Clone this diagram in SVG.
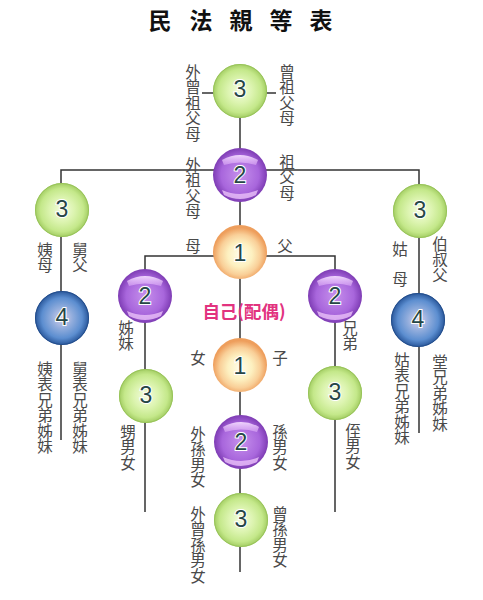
<svg xmlns="http://www.w3.org/2000/svg" width="483" height="600" viewBox="0 0 483 600">
<defs>
<radialGradient id="gGreen" cx="50%" cy="50%" r="50%">
<stop offset="0" stop-color="#f4fce0"/>
<stop offset="0.45" stop-color="#dcf4b0"/>
<stop offset="0.8" stop-color="#c4e88a"/>
<stop offset="1" stop-color="#a2cc62"/>
</radialGradient>
<radialGradient id="gPurple" cx="50%" cy="50%" r="50%">
<stop offset="0" stop-color="#c690ec"/>
<stop offset="0.7" stop-color="#a866dc"/>
<stop offset="1" stop-color="#7e3cb4"/>
</radialGradient>
<radialGradient id="gOrange" cx="50%" cy="55%" r="50%">
<stop offset="0" stop-color="#fffde8"/>
<stop offset="0.45" stop-color="#fdf0c0"/>
<stop offset="0.75" stop-color="#f9cf98"/>
<stop offset="1" stop-color="#ee9e5c"/>
</radialGradient>
<radialGradient id="gBlue" cx="50%" cy="50%" r="50%">
<stop offset="0" stop-color="#d8d0ec"/>
<stop offset="0.4" stop-color="#90acdc"/>
<stop offset="0.75" stop-color="#5c8ed0"/>
<stop offset="1" stop-color="#28569a"/>
</radialGradient>
<linearGradient id="hlTop" x1="0" y1="0" x2="0" y2="1">
<stop offset="0" stop-color="#f4dcff" stop-opacity="0.95"/>
<stop offset="1" stop-color="#e6b8fa" stop-opacity="0.5"/>
</linearGradient>
<style>
.ln{stroke:#333;stroke-width:1.5;fill:none}
.num{font-family:"Liberation Sans",Arial,sans-serif;font-size:23px;fill:#264646;stroke:#fff;stroke-width:2;paint-order:stroke;text-anchor:middle;dominant-baseline:central}
.lbl{font-family:"Noto Sans CJK TC","Noto Sans CJK SC",sans-serif;font-size:15.5px;fill:#4a4a4a}
.v{writing-mode:vertical-rl}
.h{text-anchor:middle;dominant-baseline:central}
.ttl{font-family:"Noto Sans CJK TC","Noto Sans CJK SC",sans-serif;font-size:23px;font-weight:bold;fill:#111;text-anchor:middle}
.self{font-family:"Noto Sans CJK TC","Noto Sans CJK SC",sans-serif;font-size:17.5px;font-weight:bold;fill:#e2337f;text-anchor:middle}
.rim{fill:none;stroke-width:1}
</style>
</defs>
<rect width="483" height="600" fill="#fff"/>

<g id="title">
<text class="ttl" x="160" y="29">民</text>
<text class="ttl" x="201" y="29">法</text>
<text class="ttl" x="241" y="29">親</text>
<text class="ttl" x="281" y="29">等</text>
<text class="ttl" x="321" y="29">表</text>
</g>

<g id="connectors">
<line class="ln" x1="202" y1="93" x2="276" y2="93"/>
<line class="ln" x1="240" y1="91" x2="240" y2="572"/>
<polyline class="ln" points="61,440 61,170 419,170 419,433"/>
<polyline class="ln" points="145,512 145,256 335,256 335,512"/>
</g>

<g id="n-great-grandparents">
<circle cx="240" cy="91" r="27" fill="url(#gGreen)"/>
<circle class="rim" cx="240" cy="91" r="26.5" stroke="#98c45a"/>
<text class="num" x="240" y="89">3</text>
<text class="lbl v" x="193" y="64">外曾祖父母</text>
<text class="lbl v" x="287" y="64">曾祖父母</text>
</g>

<g id="n-grandparents">
<circle cx="240" cy="175" r="27" fill="url(#gPurple)"/>
<path d="M222,160 Q240,150 258,160 L256,165 Q240,160 224,165 Z" fill="url(#hlTop)"/>
<path d="M222,190 Q240,198 258,190 L256,195 Q240,203 224,195 Z" fill="#ebc2fa" opacity="0.8"/>
<text class="num" x="240" y="175">2</text>
<text class="lbl v" x="193" y="157">外祖父母</text>
<text class="lbl v" x="287" y="154">祖父母</text>
</g>

<g id="n-parents">
<circle cx="240" cy="252" r="27" fill="url(#gOrange)"/>
<text class="num" x="240" y="253">1</text>
<text class="lbl h" x="193" y="245">母</text>
<text class="lbl h" x="285" y="245">父</text>
</g>

<g id="n-maternal-aunt-uncle">
<circle cx="62" cy="210" r="27" fill="url(#gGreen)"/>
<circle class="rim" cx="62" cy="210" r="26.5" stroke="#98c45a"/>
<text class="num" x="62" y="209">3</text>
<text class="lbl v" x="45" y="242">姨母</text>
<text class="lbl v" x="80" y="242">舅父</text>
</g>

<g id="n-maternal-cousins">
<circle cx="62" cy="318" r="27" fill="url(#gBlue)"/>
<circle class="rim" cx="62" cy="318" r="26.5" stroke="#244e8c"/>
<text class="num" x="62" y="317">4</text>
<text class="lbl v" x="45" y="361">姨表兄弟姊妹</text>
<text class="lbl v" x="80" y="361">舅表兄弟姊妹</text>
</g>

<g id="n-paternal-aunt-uncle">
<circle cx="420" cy="211" r="27" fill="url(#gGreen)"/>
<circle class="rim" cx="420" cy="211" r="26.5" stroke="#98c45a"/>
<text class="num" x="420" y="210">3</text>
<text class="lbl h" x="400" y="248">姑</text>
<text class="lbl h" x="400" y="278">母</text>
<text class="lbl v" x="440" y="236">伯叔父</text>
</g>

<g id="n-paternal-cousins">
<circle cx="418" cy="320" r="27" fill="url(#gBlue)"/>
<circle class="rim" cx="418" cy="320" r="26.5" stroke="#244e8c"/>
<text class="num" x="418" y="319">4</text>
<text class="lbl v" x="402" y="352">姑表兄弟姊妹</text>
<text class="lbl v" x="440" y="354">堂兄弟姊妹</text>
</g>

<g id="n-sisters">
<circle cx="145" cy="296" r="27" fill="url(#gPurple)"/>
<path d="M127,281 Q145,271 163,281 L161,286 Q145,281 129,286 Z" fill="url(#hlTop)"/>
<path d="M127,311 Q145,319 163,311 L161,316 Q145,324 129,316 Z" fill="#ebc2fa" opacity="0.8"/>
<text class="num" x="145" y="296">2</text>
<text class="lbl v" x="126" y="320">姊妹</text>
</g>

<g id="n-brothers">
<circle cx="335" cy="296" r="27" fill="url(#gPurple)"/>
<path d="M317,281 Q335,271 353,281 L351,286 Q335,281 319,286 Z" fill="url(#hlTop)"/>
<path d="M317,311 Q335,319 353,311 L351,316 Q335,324 319,316 Z" fill="#ebc2fa" opacity="0.8"/>
<text class="num" x="335" y="296">2</text>
<text class="lbl v" x="350" y="320">兄弟</text>
</g>

<g id="n-self">
<text class="self" x="244" y="318">自己(配偶)</text>
</g>

<g id="n-children">
<circle cx="240" cy="365" r="27" fill="url(#gOrange)"/>
<text class="num" x="240" y="366">1</text>
<text class="lbl h" x="198" y="357">女</text>
<text class="lbl h" x="280" y="357">子</text>
</g>

<g id="n-sister-children">
<circle cx="146" cy="396" r="27" fill="url(#gGreen)"/>
<circle class="rim" cx="146" cy="396" r="26.5" stroke="#98c45a"/>
<text class="num" x="146" y="395">3</text>
<text class="lbl v" x="128" y="424">甥男女</text>
</g>

<g id="n-brother-children">
<circle cx="335" cy="393" r="27" fill="url(#gGreen)"/>
<circle class="rim" cx="335" cy="393" r="26.5" stroke="#98c45a"/>
<text class="num" x="335" y="392">3</text>
<text class="lbl v" x="353" y="423">侄男女</text>
</g>

<g id="n-grandchildren">
<circle cx="241" cy="442" r="27" fill="url(#gPurple)"/>
<path d="M223,427 Q241,417 259,427 L257,432 Q241,427 225,432 Z" fill="url(#hlTop)"/>
<path d="M223,457 Q241,465 259,457 L257,462 Q241,470 225,462 Z" fill="#ebc2fa" opacity="0.8"/>
<text class="num" x="241" y="442">2</text>
<text class="lbl v" x="198" y="426">外孫男女</text>
<text class="lbl v" x="280" y="424">孫男女</text>
</g>

<g id="n-great-grandchildren">
<circle cx="241" cy="520" r="27" fill="url(#gGreen)"/>
<circle class="rim" cx="241" cy="520" r="26.5" stroke="#98c45a"/>
<text class="num" x="241" y="519">3</text>
<text class="lbl v" x="198" y="506">外曾孫男女</text>
<text class="lbl v" x="280" y="506">曾孫男女</text>
</g>
</svg>
